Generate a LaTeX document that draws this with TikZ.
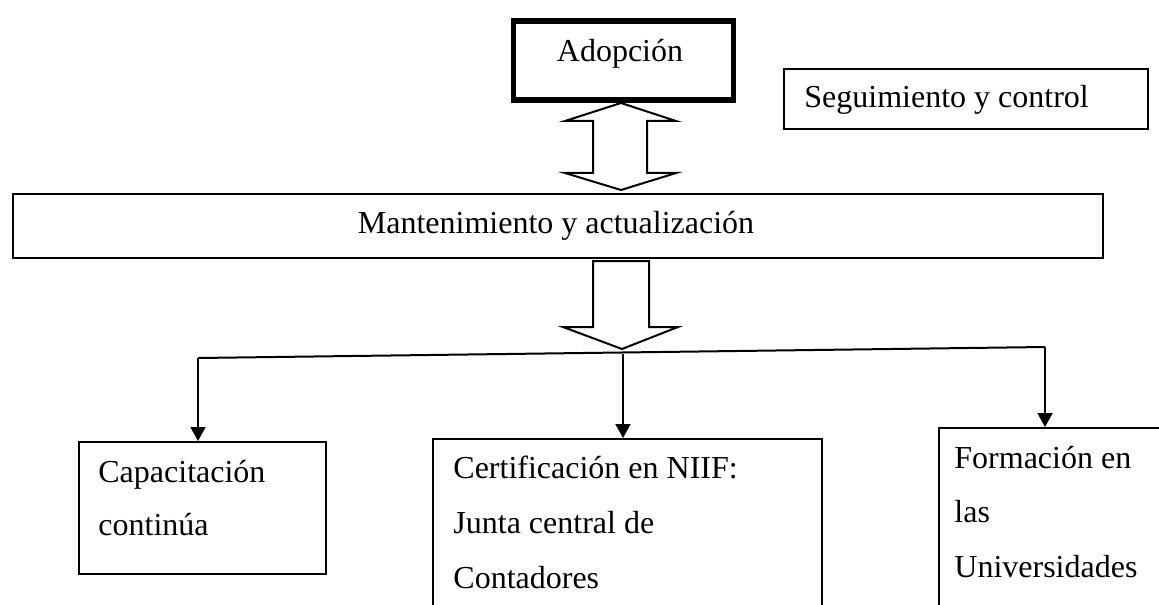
\documentclass[tikz,border=0pt]{standalone}
\usepackage{fontspec}
\setmainfont{Liberation Serif}
\usetikzlibrary{arrows.meta}
\tikzset{
  box/.style={draw, line width=1pt, rectangle, inner sep=0pt, anchor=north west},
  thickbox/.style={box, line width=2.6pt},
  txt/.style={inner sep=0pt, font=\fontsize{16pt}{19pt}\selectfont},
  blockarrow/.style={draw, line width=1pt, fill=white, line join=miter},
  conn/.style={line width=1pt, -{Triangle[length=7pt,width=7.5pt]}},
  plain/.style={line width=1pt}
}
\begin{document}
\begin{tikzpicture}[x=0.5pt,y=-0.5pt]
\clip (0,0) rectangle (1159,604);
\fill[white] (0,0) rectangle (1159,604);
% boxes
\node[thickbox, minimum width=110pt, minimum height=39.5pt] (adop) at (510.5,18.5) {};
\node[box, minimum width=182pt, minimum height=30pt] (seg) at (783,68) {};
\node[box, minimum width=545pt, minimum height=32pt] (mant) at (12,193) {};
\node[box, minimum width=123.5pt, minimum height=66pt] (cap) at (78,441) {};
\node[box, minimum width=194.5pt, minimum height=110pt] (cert) at (432,438) {};
\node[box, minimum width=140pt, minimum height=110pt] (form) at (938,427) {};
% texts
\node[txt, anchor=base] (tadop) at (620,62) {Adopción};
\node[txt, anchor=base west] (tseg) at (804,108) {Seguimiento y control};
\node[txt, anchor=base] (tmant) at (556,233) {Mantenimiento y actualización};
\node[txt, anchor=base west] (tcap1) at (98,482) {Capacitación};
\node[txt, anchor=base west] (tcap2) at (98,535) {continúa};
\node[txt, anchor=base west] (tcert1) at (453,478) {Certificación en NIIF:};
\node[txt, anchor=base west] (tcert2) at (453,533) {Junta central de};
\node[txt, anchor=base west] (tcert3) at (453,588) {Contadores};
\node[txt, anchor=base west] (tform1) at (954,468) {Formación en};
\node[txt, anchor=base west] (tform2) at (954,522) {las};
\node[txt, anchor=base west] (tform3) at (954,577) {Universidades};
% block arrows
\draw[blockarrow] (621,103) -- (676,121) -- (647,121) -- (647,173) -- (676,173) -- (621,190)
  -- (565,173) -- (593,173) -- (593,121) -- (565,121) -- cycle;
\draw[blockarrow] (593,261) -- (649,261) -- (649,327) -- (678,327) -- (622,349) -- (563,327)
  -- (593,327) -- cycle;
% connectors
\coordinate (hl) at (198,358);
\coordinate (hr) at (1045,347);
\coordinate (hm) at (623,354);
\draw[plain] (hl) -- (hr);
\draw[conn] (hl) -- (hl |- cap.north);
\draw[conn] (hm) -- (hm |- cert.north);
\draw[conn] (hr) -- (hr |- form.north);
\end{tikzpicture}
\end{document}
